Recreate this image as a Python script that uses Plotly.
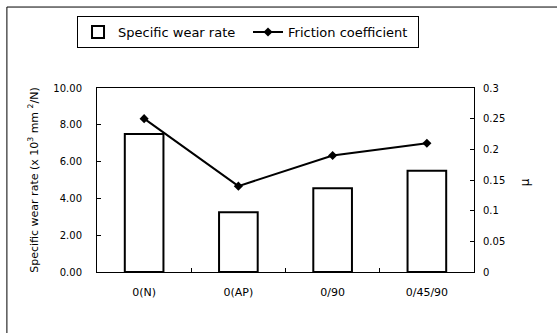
import plotly.graph_objects as go

categories = ["0(N)", "0(AP)", "0/90", "0/45/90"]
wear_rate = [7.5, 3.25, 4.55, 5.5]          # x 10^3 mm^2/N
friction = [0.25, 0.14, 0.19, 0.21]         # mu

FAMILY = "DejaVu Sans, Liberation Sans, Arial, sans-serif"
font = dict(family=FAMILY, size=10, color="#000")

fig = go.Figure()
fig.add_trace(go.Bar(
    x=categories, y=wear_rate, name="Specific wear rate",
    marker=dict(color="white", line=dict(color="black", width=2)),
    width=0.41, yaxis="y",
))
fig.add_trace(go.Scatter(
    x=categories, y=friction, name="Friction coefficient",
    mode="lines+markers",
    line=dict(color="black", width=2),
    marker=dict(symbol="diamond", size=7, color="black"),
    yaxis="y2",
))

fig.update_layout(
    width=557, height=333,
    margin=dict(l=97, r=83, t=88, b=61),
    paper_bgcolor="white", plot_bgcolor="white",
    font=font,
    showlegend=True,
    legend=dict(
        orientation="h", x=-0.053, y=1.391, xanchor="left", yanchor="top",
        bordercolor="black", borderwidth=1, bgcolor="white",
        font=dict(family=FAMILY, size=13, color="#000"),
        itemwidth=30, tracegroupgap=0,
        entrywidth=125, entrywidthmode="pixels",
    ),
    xaxis=dict(
        type="category", showline=True, linecolor="black", linewidth=1,
        mirror=True, ticks="inside", ticklen=4, tickson="boundaries",
        tickcolor="black", showgrid=False, ticklabelstandoff=10,
        tickfont=dict(size=11),
    ),
    yaxis=dict(
        range=[0, 10], dtick=2, tickformat=".2f",
        showline=True, linecolor="black", linewidth=1, mirror=True,
        ticks="inside", ticklen=4, tickcolor="black", showgrid=False,
        zeroline=False, ticklabelstandoff=12,
        title=dict(text="Specific wear rate (x 10<sup>3</sup> mm <sup>2</sup>/N)",
                   font=dict(size=11), standoff=12),
    ),
    yaxis2=dict(
        range=[0, 0.3], dtick=0.05, overlaying="y", side="right",
        showline=True, linecolor="black", linewidth=1,
        ticks="inside", ticklen=4, tickcolor="black", showgrid=False,
        zeroline=False, ticklabelstandoff=6,
    ),
    bargap=0.59,
)

# rotated mu label beside the right axis
fig.add_annotation(
    text="μ", xref="paper", yref="paper", x=1.16, y=0.49,
    showarrow=False, textangle=-90, font=dict(size=12),
)

# outer chart frame (right and bottom edges fall outside the page)
fig.add_shape(type="rect", xref="paper", yref="paper",
              x0=-0.239, y0=-0.6, x1=1.5, y1=1.44,
              line=dict(color="black", width=1), layer="below")

fig.write_html("out.html")
